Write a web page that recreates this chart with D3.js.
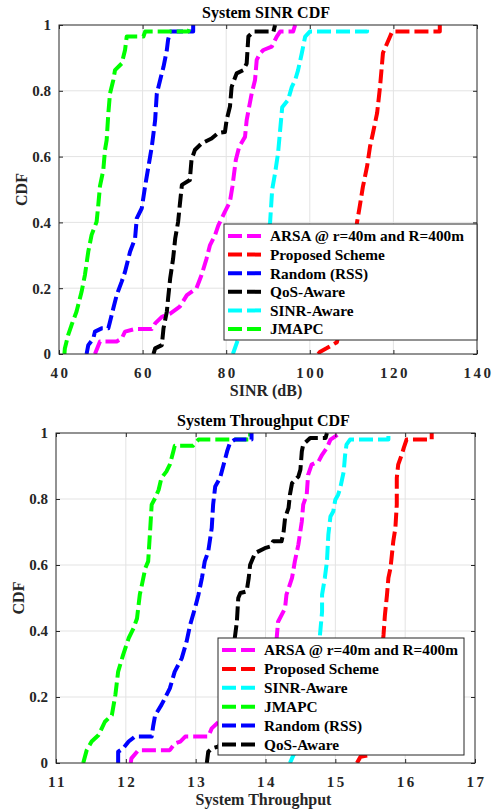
<!DOCTYPE html>
<html>
<meta charset="utf-8">
<style>
    body { margin: 0; background: #fff; }
    text { font-family: "Liberation Serif", "Times New Roman", serif; font-weight: bold; fill: #262626; }
    .grid line { stroke: #e3e3e3; stroke-width: 1px; }
    .axis path, .axis line { stroke: #262626; }
    .curve { fill: none; stroke-width: 4px; stroke-dasharray: 14,5; stroke-linejoin: round; }
</style>
<body>
<script src="https://d3js.org/d3.v7.min.js"></script>
<script>

// ---- data: SINR CDF (x = SINR dB, y = CDF) ----
var sinrArsa = [[48.6,0],[49.8,0.038],[53.8,0.038],[55.0,0.047],[55.8,0.068],[58.2,0.076],[62.2,0.076],[63.0,0.093],[64.6,0.113],[66.6,0.123],[68.9,0.144],[70.6,0.179],[72.9,0.2],[74.1,0.24],[75.3,0.29],[76.1,0.33],[77.3,0.36],[78.1,0.39],[79.7,0.433],[80.9,0.463],[81.5,0.51],[82.3,0.59],[83.1,0.63],[84.5,0.66],[84.9,0.711],[85.5,0.752],[86.1,0.792],[86.9,0.833],[87.3,0.894],[88.1,0.914],[88.9,0.924],[90.9,0.934],[92.1,0.965],[92.9,0.98],[96.0,0.98],[96.5,1]];
var sinrProposed = [[102.0,0],[102.4,0.006],[104.1,0.018],[106.5,0.036],[107.5,0.1],[109.0,0.2],[110.3,0.3],[111.3,0.4],[112.0,0.453],[112.7,0.508],[113.7,0.57],[114.4,0.63],[115.1,0.671],[116.1,0.732],[116.8,0.812],[117.3,0.885],[117.5,0.915],[119.2,0.965],[119.7,0.98],[131.1,0.98],[131.1,1]];
var sinrRandom = [[46.6,0],[47.0,0.027],[48.2,0.047],[48.6,0.068],[50.2,0.078],[51.8,0.078],[52.2,0.098],[53.0,0.139],[53.8,0.179],[55.0,0.22],[55.8,0.25],[57.0,0.311],[58.2,0.351],[58.6,0.412],[59.8,0.443],[60.6,0.51],[61.4,0.57],[62.2,0.63],[62.6,0.67],[63.0,0.711],[63.4,0.792],[64.2,0.833],[65.0,0.873],[65.8,0.924],[66.1,0.955],[66.6,0.98],[72.1,0.98],[72.1,1]];
var sinrQos = [[62.6,0],[63.0,0.017],[64.6,0.027],[65.0,0.078],[65.8,0.129],[66.1,0.169],[66.6,0.23],[67.3,0.29],[67.8,0.351],[68.5,0.402],[68.9,0.453],[69.4,0.514],[71.3,0.529],[71.7,0.59],[72.5,0.62],[74.1,0.64],[76.5,0.655],[78.1,0.672],[79.7,0.675],[80.1,0.711],[80.9,0.752],[81.3,0.812],[82.5,0.853],[84.1,0.863],[84.9,0.883],[85.3,0.965],[86.5,0.98],[91.3,0.98],[91.7,1]];
var sinrSinr = [[81.6,0],[82.6,0.036],[84.5,0.1],[86.5,0.2],[88.5,0.3],[90.5,0.4],[91.0,0.5],[91.7,0.55],[92.4,0.61],[92.9,0.68],[93.4,0.75],[94.8,0.772],[95.7,0.812],[96.5,0.833],[97.2,0.863],[98.1,0.915],[98.9,0.965],[100.0,0.98],[113.7,0.98],[113.7,1]];
var sinrJmapc = [[41.3,0],[41.4,0.017],[42.2,0.058],[43.0,0.088],[44.2,0.129],[45.4,0.189],[46.2,0.24],[47.0,0.311],[47.8,0.362],[49.0,0.402],[49.4,0.453],[49.8,0.51],[50.6,0.559],[51.0,0.62],[51.4,0.65],[51.8,0.731],[52.2,0.792],[53.0,0.833],[53.4,0.863],[55.0,0.883],[55.8,0.924],[56.2,0.965],[60.2,0.965],[60.6,0.98],[70.9,0.98],[71.7,1]];

// ---- data: throughput CDF ----
var thrArsa = [[12.07,0],[12.08,0.014],[12.18,0.039],[12.63,0.039],[12.70,0.059],[12.78,0.065],[12.85,0.08],[13.18,0.08],[13.23,0.105],[13.33,0.125],[13.7,0.2],[14.0,0.3],[14.16,0.378],[14.18,0.428],[14.28,0.469],[14.30,0.51],[14.38,0.561],[14.42,0.611],[14.47,0.661],[14.52,0.732],[14.54,0.783],[14.59,0.813],[14.61,0.873],[14.66,0.904],[14.76,0.914],[14.81,0.934],[14.88,0.955],[14.93,0.98],[15.0,0.99],[15.07,1]];
var thrProposed = [[15.31,0],[15.36,0.019],[15.50,0.024],[15.52,0.04],[15.55,0.1],[15.6,0.2],[15.65,0.3],[15.69,0.388],[15.71,0.448],[15.74,0.51],[15.76,0.561],[15.79,0.591],[15.81,0.631],[15.83,0.672],[15.86,0.712],[15.88,0.783],[15.88,0.864],[15.90,0.904],[15.95,0.934],[15.98,0.955],[16.02,0.98],[16.38,0.98],[16.38,1]];
var thrSinr = [[14.35,0],[14.40,0.024],[14.45,0.04],[14.6,0.1],[14.7,0.2],[14.75,0.3],[14.78,0.388],[14.81,0.458],[14.81,0.51],[14.85,0.561],[14.88,0.611],[14.90,0.692],[14.93,0.747],[14.97,0.762],[15.0,0.798],[15.04,0.813],[15.07,0.833],[15.12,0.883],[15.14,0.934],[15.16,0.965],[15.21,0.98],[15.76,0.98],[15.76,1]];
var thrJmapc = [[11.39,0],[11.44,0.039],[11.51,0.065],[11.61,0.085],[11.70,0.125],[11.80,0.145],[11.85,0.206],[11.89,0.277],[11.96,0.327],[12.04,0.378],[12.11,0.408],[12.16,0.438],[12.20,0.51],[12.23,0.54],[12.28,0.591],[12.32,0.611],[12.35,0.712],[12.37,0.783],[12.42,0.803],[12.47,0.828],[12.51,0.864],[12.58,0.883],[12.63,0.904],[12.68,0.944],[12.70,0.961],[12.96,0.961],[13.04,0.98],[13.78,0.98],[13.78,1]];
var thrRandom = [[11.89,0],[11.89,0.034],[11.96,0.044],[12.04,0.065],[12.13,0.08],[12.37,0.08],[12.39,0.11],[12.42,0.145],[12.51,0.176],[12.63,0.226],[12.70,0.277],[12.80,0.317],[12.87,0.368],[12.92,0.418],[12.99,0.469],[13.04,0.51],[13.09,0.561],[13.13,0.611],[13.18,0.641],[13.23,0.712],[13.25,0.783],[13.28,0.838],[13.35,0.864],[13.40,0.904],[13.45,0.944],[13.49,0.97],[13.56,0.98],[13.80,0.98],[13.80,1]];
var thrQos = [[13.16,0],[13.18,0.034],[13.23,0.044],[13.33,0.05],[13.45,0.1],[13.5,0.2],[13.53,0.3],[13.56,0.378],[13.59,0.428],[13.61,0.5],[13.64,0.515],[13.73,0.52],[13.76,0.561],[13.78,0.601],[13.85,0.636],[13.99,0.651],[14.07,0.656],[14.11,0.672],[14.23,0.672],[14.26,0.702],[14.28,0.742],[14.33,0.773],[14.35,0.813],[14.38,0.848],[14.47,0.868],[14.50,0.889],[14.52,0.944],[14.54,0.965],[14.64,0.985],[14.86,0.985],[14.88,1]];

// axis ticks
var sinrTicks = [40, 60, 80, 100, 120, 140];
var thrTicks = [11, 12, 13, 14, 15, 16, 17];
var cdfTicks = [0, 0.2, 0.4, 0.6, 0.8, 1];

var svg = d3.select("body").append("svg")
    .attr("width", 493)
    .attr("height", 809);

function drawPanel(p) {
    var x = d3.scaleLinear().domain(d3.extent(p.xTicks)).range([p.left, p.right]);
    var y = d3.scaleLinear().domain([0, 1]).range([p.bottom, p.top]);
    var g = svg.append("g");
    var w = p.right - p.left, h = p.bottom - p.top;

    // grid
    g.append("g").attr("class", "grid")
        .selectAll("line").data(p.xTicks.slice(1, -1)).enter().append("line")
        .attr("x1", x).attr("x2", x).attr("y1", p.top).attr("y2", p.bottom);
    g.append("g").attr("class", "grid")
        .selectAll("line").data(cdfTicks.slice(1, -1)).enter().append("line")
        .attr("x1", p.left).attr("x2", p.right).attr("y1", y).attr("y2", y);

    // clip
    var clipId = "clip" + p.top;
    g.append("clipPath").attr("id", clipId).append("rect")
        .attr("x", p.left).attr("y", p.top - 1).attr("width", w).attr("height", h + 1);

    // curves
    var line = d3.line().x(function (d) { return x(d[0]); }).y(function (d) { return y(d[1]); });
    p.series.forEach(function (s) {
        g.append("path").datum(s.data)
            .attr("class", "curve")
            .attr("clip-path", "url(#" + clipId + ")")
            .style("stroke", s.color)
            .attr("d", line);
    });

    // axes (ticks inside, all four sides)
    var tk = 4;
    g.append("g").attr("class", "axis").attr("transform", "translate(0," + p.bottom + ")")
        .call(d3.axisBottom(x).tickValues(p.xTicks).tickSize(-tk).tickPadding(10).tickFormat(d3.format("d")))
        .call(function (a) {
            a.select(".domain").remove();
            a.selectAll("text").style("font-size", "15px").style("letter-spacing", "2.5px")
                .attr("dx", "1px").attr("dy", "0.9em");
        });
    g.append("g").attr("class", "axis").attr("transform", "translate(0," + p.top + ")")
        .call(d3.axisTop(x).tickValues(p.xTicks).tickSize(-tk).tickFormat(""))
        .call(function (a) { a.select(".domain").remove(); });
    g.append("g").attr("class", "axis").attr("transform", "translate(" + p.left + ",0)")
        .call(d3.axisLeft(y).tickValues(cdfTicks).tickSize(-tk).tickPadding(8).tickFormat(d3.format("")))
        .call(function (a) { a.select(".domain").remove(); a.selectAll("text").style("font-size", "15px"); });
    g.append("g").attr("class", "axis").attr("transform", "translate(" + p.right + ",0)")
        .call(d3.axisRight(y).tickValues(cdfTicks).tickSize(-tk).tickFormat(""))
        .call(function (a) { a.select(".domain").remove(); });
    g.append("rect").attr("x", p.left).attr("y", p.top).attr("width", w).attr("height", h)
        .style("fill", "none").style("stroke", "#262626").style("stroke-width", 1);

    // title and labels
    g.append("text").attr("x", (p.left + p.right) / 2 - 2).attr("y", p.top - 7)
        .attr("text-anchor", "middle").style("font-size", "16px").style("fill", "#000").text(p.title);
    g.append("text").attr("x", (p.left + p.right) / 2 - 2).attr("y", p.bottom + 42)
        .attr("text-anchor", "middle").style("font-size", "16px").text(p.xLabel);
    g.append("text")
        .attr("transform", "translate(" + (p.left - 32) + "," + ((p.top + p.bottom) / 2) + ") rotate(-90)")
        .attr("text-anchor", "middle").style("font-size", "16px").text("CDF");

    // legend
    var lg = g.append("g").attr("transform", "translate(" + p.legX + "," + p.legY + ")");
    lg.append("rect").attr("width", p.legW).attr("height", p.legH)
        .style("fill", "#fff").style("stroke", "#262626").style("stroke-width", 1);
    p.legendOrder.forEach(function (s, i) {
        var yy = 12 + i * p.legStep;
        lg.append("line").attr("x1", 4).attr("x2", 39).attr("y1", yy).attr("y2", yy)
            .attr("class", "curve").style("stroke", s.color);
        lg.append("text").attr("x", 46).attr("y", yy).attr("dy", "0.35em")
            .style("font-size", "15.3px").style("fill", "#000").text(s.name);
    });
}

var C = { arsa: "#ff00ff", prop: "#ff0000", rand: "#0000ff", qos: "#000000", sinr: "#00ffff", jm: "#00ff00" };

var topSeries = [
    { name: "ARSA @ r=40m and R=400m", color: C.arsa, data: sinrArsa },
    { name: "Proposed Scheme", color: C.prop, data: sinrProposed },
    { name: "Random (RSS)", color: C.rand, data: sinrRandom },
    { name: "QoS-Aware", color: C.qos, data: sinrQos },
    { name: "SINR-Aware", color: C.sinr, data: sinrSinr },
    { name: "JMAPC", color: C.jm, data: sinrJmapc }
];
drawPanel({
    left: 59, right: 477, top: 25, bottom: 354,
    xTicks: sinrTicks, title: "System SINR CDF", xLabel: "SINR (dB)",
    series: topSeries, legendOrder: topSeries,
    legX: 224, legY: 224, legW: 253, legH: 116, legStep: 18.6
});

var botSeries = [
    { name: "ARSA @ r=40m and R=400m", color: C.arsa, data: thrArsa },
    { name: "Proposed Scheme", color: C.prop, data: thrProposed },
    { name: "SINR-Aware", color: C.sinr, data: thrSinr },
    { name: "JMAPC", color: C.jm, data: thrJmapc },
    { name: "Random (RSS)", color: C.rand, data: thrRandom },
    { name: "QoS-Aware", color: C.qos, data: thrQos }
];
drawPanel({
    left: 56, right: 475, top: 433, bottom: 763,
    xTicks: thrTicks, title: "System Throughput CDF", xLabel: "System Throughput",
    series: botSeries, legendOrder: botSeries,
    legX: 218, legY: 638, legW: 246, legH: 117, legStep: 18.9
});

</script>
</body>
</html>
